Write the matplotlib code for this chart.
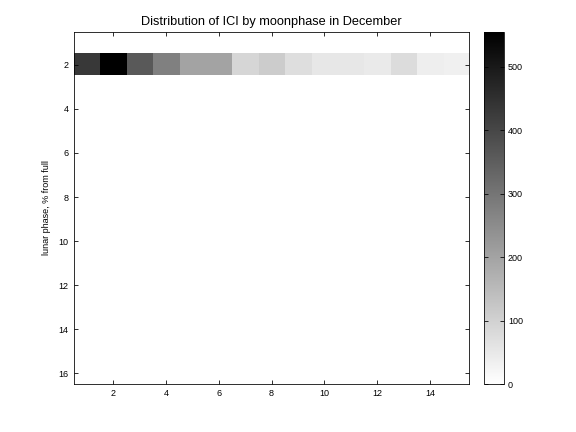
import numpy as np
import matplotlib
matplotlib.use('Agg')
import matplotlib.pyplot as plt

# counts per ICI bin (columns 1..15) for moonphase row 2; all other rows empty
ici_bins = np.arange(1, 16)
phase_bins = np.arange(1, 17)
row2_counts = [433, 555, 359, 276, 200, 200, 91, 111, 72, 54, 54, 46, 76, 37, 33]

counts = np.zeros((len(phase_bins), len(ici_bins)))
counts[1, :] = row2_counts

plt.rcParams['font.family'] = ['Liberation Sans', 'DejaVu Sans']

fig = plt.figure(figsize=(8, 6), dpi=72)
ax = fig.add_axes([0.128, 0.111, 0.687, 0.815])
cax = fig.add_axes([0.840, 0.111, 0.035, 0.815])

im = ax.imshow(counts, cmap='gray_r', aspect='auto', interpolation='nearest',
               extent=[0.5, 15.5, 16.5, 0.5], vmin=0, vmax=555)
ax.set_xticks(np.arange(2, 15, 2))
ax.set_yticks(np.arange(2, 17, 2))
ax.tick_params(direction='in', top=True, right=True, labelsize=9, length=4, width=0.8, pad=5)
for s in ax.spines.values():
    s.set_linewidth(0.8)
ax.set_ylabel('lunar phase, % from full', fontsize=9, labelpad=8)
ax.set_title('Distribution of ICI by moonphase in December', fontsize=12.7, pad=7)

cb = fig.colorbar(im, cax=cax)
cb.set_ticks([0, 100, 200, 300, 400, 500])
cax.tick_params(direction='in', left=True, right=True, labelsize=9, length=4, width=0.8, pad=4)
cb.outline.set_linewidth(0.8)

fig.savefig('out.png', dpi=72)
